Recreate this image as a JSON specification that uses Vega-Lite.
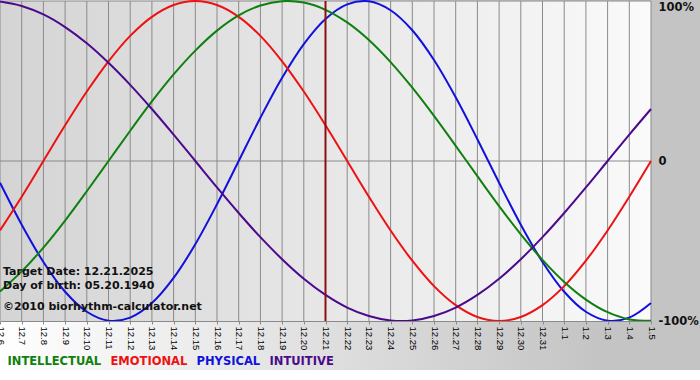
{
  "$schema": "https://vega.github.io/schema/vega-lite/v6.json",
  "width": 651,
  "height": 320,
  "autosize": {"type": "none"},
  "padding": {"left": 0, "top": 1, "right": 49, "bottom": 59},
  "background": "#ffffff",
  "config": {"view": {"stroke": null}},
  "datasets": {
    "biorhythm": [
      {"date": "2025-12-06", "PHYSICAL": -0.136, "EMOTIONAL": -0.434, "INTELLECTUAL": -0.815, "INTUITIVE": 0.997},
      {"date": "2025-12-07", "PHYSICAL": -0.398, "EMOTIONAL": -0.223, "INTELLECTUAL": -0.690, "INTUITIVE": 0.969},
      {"date": "2025-12-08", "PHYSICAL": -0.631, "EMOTIONAL": 0.0, "INTELLECTUAL": -0.541, "INTUITIVE": 0.916},
      {"date": "2025-12-09", "PHYSICAL": -0.817, "EMOTIONAL": 0.223, "INTELLECTUAL": -0.372, "INTUITIVE": 0.837},
      {"date": "2025-12-10", "PHYSICAL": -0.942, "EMOTIONAL": 0.434, "INTELLECTUAL": -0.189, "INTUITIVE": 0.736},
      {"date": "2025-12-11", "PHYSICAL": -0.998, "EMOTIONAL": 0.623, "INTELLECTUAL": 0.0, "INTUITIVE": 0.614},
      {"date": "2025-12-12", "PHYSICAL": -0.979, "EMOTIONAL": 0.782, "INTELLECTUAL": 0.189, "INTUITIVE": 0.476},
      {"date": "2025-12-13", "PHYSICAL": -0.888, "EMOTIONAL": 0.901, "INTELLECTUAL": 0.372, "INTUITIVE": 0.325},
      {"date": "2025-12-14", "PHYSICAL": -0.731, "EMOTIONAL": 0.975, "INTELLECTUAL": 0.541, "INTUITIVE": 0.165},
      {"date": "2025-12-15", "PHYSICAL": -0.520, "EMOTIONAL": 1.0, "INTELLECTUAL": 0.690, "INTUITIVE": 0.0},
      {"date": "2025-12-16", "PHYSICAL": -0.270, "EMOTIONAL": 0.975, "INTELLECTUAL": 0.815, "INTUITIVE": -0.165},
      {"date": "2025-12-17", "PHYSICAL": 0.0, "EMOTIONAL": 0.901, "INTELLECTUAL": 0.910, "INTUITIVE": -0.325},
      {"date": "2025-12-18", "PHYSICAL": 0.270, "EMOTIONAL": 0.782, "INTELLECTUAL": 0.972, "INTUITIVE": -0.476},
      {"date": "2025-12-19", "PHYSICAL": 0.520, "EMOTIONAL": 0.623, "INTELLECTUAL": 0.999, "INTUITIVE": -0.614},
      {"date": "2025-12-20", "PHYSICAL": 0.731, "EMOTIONAL": 0.434, "INTELLECTUAL": 0.990, "INTUITIVE": -0.736},
      {"date": "2025-12-21", "PHYSICAL": 0.888, "EMOTIONAL": 0.223, "INTELLECTUAL": 0.945, "INTUITIVE": -0.837},
      {"date": "2025-12-22", "PHYSICAL": 0.979, "EMOTIONAL": 0.0, "INTELLECTUAL": 0.866, "INTUITIVE": -0.916},
      {"date": "2025-12-23", "PHYSICAL": 0.998, "EMOTIONAL": -0.223, "INTELLECTUAL": 0.756, "INTUITIVE": -0.969},
      {"date": "2025-12-24", "PHYSICAL": 0.942, "EMOTIONAL": -0.434, "INTELLECTUAL": 0.618, "INTUITIVE": -0.997},
      {"date": "2025-12-25", "PHYSICAL": 0.817, "EMOTIONAL": -0.623, "INTELLECTUAL": 0.458, "INTUITIVE": -0.997},
      {"date": "2025-12-26", "PHYSICAL": 0.631, "EMOTIONAL": -0.782, "INTELLECTUAL": 0.282, "INTUITIVE": -0.969},
      {"date": "2025-12-27", "PHYSICAL": 0.398, "EMOTIONAL": -0.901, "INTELLECTUAL": 0.095, "INTUITIVE": -0.916},
      {"date": "2025-12-28", "PHYSICAL": 0.136, "EMOTIONAL": -0.975, "INTELLECTUAL": -0.095, "INTUITIVE": -0.837},
      {"date": "2025-12-29", "PHYSICAL": -0.136, "EMOTIONAL": -1.0, "INTELLECTUAL": -0.282, "INTUITIVE": -0.736},
      {"date": "2025-12-30", "PHYSICAL": -0.398, "EMOTIONAL": -0.975, "INTELLECTUAL": -0.458, "INTUITIVE": -0.614},
      {"date": "2025-12-31", "PHYSICAL": -0.631, "EMOTIONAL": -0.901, "INTELLECTUAL": -0.618, "INTUITIVE": -0.476},
      {"date": "2026-01-01", "PHYSICAL": -0.817, "EMOTIONAL": -0.782, "INTELLECTUAL": -0.756, "INTUITIVE": -0.325},
      {"date": "2026-01-02", "PHYSICAL": -0.942, "EMOTIONAL": -0.623, "INTELLECTUAL": -0.866, "INTUITIVE": -0.165},
      {"date": "2026-01-03", "PHYSICAL": -0.998, "EMOTIONAL": -0.434, "INTELLECTUAL": -0.945, "INTUITIVE": 0.0},
      {"date": "2026-01-04", "PHYSICAL": -0.979, "EMOTIONAL": -0.223, "INTELLECTUAL": -0.990, "INTUITIVE": 0.165},
      {"date": "2026-01-05", "PHYSICAL": -0.888, "EMOTIONAL": 0.0, "INTELLECTUAL": -0.999, "INTUITIVE": 0.325}
    ]
  },
  "data": {"name": "biorhythm"},
  "layer": [
    {
      "data": {"values": [{}]},
      "mark": {"type": "rect", "color": {"gradient": "linear", "x1": 0, "y1": 0, "x2": 1, "y2": 0, "stops": [{"offset": 0, "color": "#ffffff"}, {"offset": 0.84, "color": "#c4c4c4"}, {"offset": 1, "color": "#c4c4c4"}]}},
      "encoding": {
        "x": {"datum": {"year": 2025, "month": 12, "date": 6, "utc": true}, "type": "temporal", "scale": {"type": "utc", "domain": [{"year": 2025, "month": 12, "date": 6, "utc": true}, {"year": 2026, "month": 1, "date": 5, "utc": true}], "nice": false}},
        "x2": {"datum": {"year": 2026, "month": 1, "date": 8, "utc": true}},
        "y": {"datum": 1.05, "type": "quantitative", "scale": {"domain": [-1, 1], "nice": false, "zero": false}},
        "y2": {"datum": -1.306}
      }
    },
    {
      "data": {"values": [{}]},
      "mark": {"type": "rect", "color": {"gradient": "linear", "x1": 0, "y1": 0, "x2": 1, "y2": 0, "stops": [{"offset": 0, "color": "#d4d4d4"}, {"offset": 1, "color": "#fafafa"}]}},
      "encoding": {
        "x": {"datum": {"year": 2025, "month": 12, "date": 6, "utc": true}, "type": "temporal", "scale": {"type": "utc", "domain": [{"year": 2025, "month": 12, "date": 6, "utc": true}, {"year": 2026, "month": 1, "date": 5, "utc": true}], "nice": false}},
        "x2": {"datum": {"year": 2026, "month": 1, "date": 5, "utc": true}},
        "y": {"datum": 1, "type": "quantitative", "scale": {"domain": [-1, 1], "nice": false, "zero": false}},
        "y2": {"datum": -1}
      }
    },
    {
      "mark": {"type": "rule", "color": "#8a8a8a", "strokeWidth": 1},
      "encoding": {
        "x": {"field": "date", "type": "temporal", "scale": {"type": "utc", "domain": [{"year": 2025, "month": 12, "date": 6, "utc": true}, {"year": 2026, "month": 1, "date": 5, "utc": true}], "nice": false}},
        "y": {"datum": 1, "type": "quantitative", "scale": {"domain": [-1, 1], "nice": false, "zero": false}},
        "y2": {"datum": -1}
      }
    },
    {
      "data": {"values": [{"level": 0}, {"level": 1}]},
      "mark": {"type": "rule", "color": "#8a8a8a", "strokeWidth": 1},
      "encoding": {
        "y": {"field": "level", "type": "quantitative", "scale": {"domain": [-1, 1], "nice": false, "zero": false}}
      }
    },
    {
      "transform": [{"fold": ["PHYSICAL", "EMOTIONAL", "INTELLECTUAL", "INTUITIVE"], "as": ["cycle", "value"]}],
      "mark": {"type": "line", "strokeWidth": 2, "interpolate": "catmull-rom"},
      "encoding": {
        "x": {
          "field": "date", "type": "temporal",
          "scale": {"type": "utc", "domain": [{"year": 2025, "month": 12, "date": 6, "utc": true}, {"year": 2026, "month": 1, "date": 5, "utc": true}], "nice": false},
          "axis": {
            "title": null, "format": "%-m.%-d", "tickCount": {"interval": "day", "step": 1},
            "labelAngle": 90, "labelFont": "Liberation Sans", "labelFontSize": 9.5, "labelColor": "#000000",
            "labelPadding": 2, "tickSize": 3, "tickColor": "#8a8a8a", "domainColor": "#8a8a8a",
            "grid": false, "labelOverlap": false, "labelFlush": false, "labelBound": false, "zindex": 1
          }
        },
        "y": {
          "field": "value", "type": "quantitative",
          "scale": {"domain": [-1, 1], "nice": false, "zero": false},
          "axis": {
            "orient": "right", "title": null, "values": [-1, 0, 1],
            "labelExpr": "datum.value > 0 ? '100%' : (datum.value < 0 ? '-100%' : '0')",
            "ticks": false, "domain": false, "grid": false, "labelPadding": 7,
            "labelFont": "DejaVu Sans", "labelFontWeight": "bold", "labelFontSize": 11.5, "labelColor": "#111111",
            "labelAlign": "left",
            "labelBaseline": {"condition": {"test": "datum.value == 1", "value": "top"}, "value": "middle"},
            "labelFlush": false, "labelBound": false, "zindex": 1
          }
        },
        "color": {
          "field": "cycle", "type": "nominal",
          "scale": {"domain": ["INTELLECTUAL", "EMOTIONAL", "PHYSICAL", "INTUITIVE"], "range": ["#0f800f", "#ee1111", "#1111dd", "#4b0a8c"]},
          "legend": {
            "orient": "none", "legendX": -4, "legendY": 355, "direction": "horizontal", "title": null,
            "symbolSize": 0, "symbolOpacity": 0, "symbolStrokeWidth": 0, "labelOffset": 0,
            "columnPadding": -3, "gridAlign": "none", "padding": 0,
            "labelFont": "DejaVu Sans", "labelFontWeight": "bold", "labelFontSize": 11.5,
            "labelColor": {"expr": "scale('color', datum.value)"}
          }
        }
      }
    },
    {
      "data": {"values": [{}]},
      "mark": {"type": "rule", "color": "#8b1010", "strokeWidth": 2},
      "encoding": {
        "x": {"datum": {"year": 2025, "month": 12, "date": 21, "utc": true}, "type": "temporal", "scale": {"type": "utc", "domain": [{"year": 2025, "month": 12, "date": 6, "utc": true}, {"year": 2026, "month": 1, "date": 5, "utc": true}], "nice": false}},
        "y": {"datum": 1, "type": "quantitative", "scale": {"domain": [-1, 1], "nice": false, "zero": false}},
        "y2": {"datum": -1}
      }
    },
    {
      "data": {"values": [
        {"note": "Target Date: 12.21.2025", "level": -0.694},
        {"note": "Day of birth: 05.20.1940", "level": -0.781},
        {"note": "©2010 biorhythm-calculator.net", "level": -0.913}
      ]},
      "mark": {"type": "text", "align": "left", "baseline": "middle", "dx": 3, "font": "DejaVu Sans", "fontWeight": "bold", "fontSize": 11, "color": "#111111"},
      "encoding": {
        "x": {"datum": {"year": 2025, "month": 12, "date": 6, "utc": true}, "type": "temporal", "scale": {"type": "utc", "domain": [{"year": 2025, "month": 12, "date": 6, "utc": true}, {"year": 2026, "month": 1, "date": 5, "utc": true}], "nice": false}},
        "y": {"field": "level", "type": "quantitative", "scale": {"domain": [-1, 1], "nice": false, "zero": false}},
        "text": {"field": "note"}
      }
    }
  ]
}
